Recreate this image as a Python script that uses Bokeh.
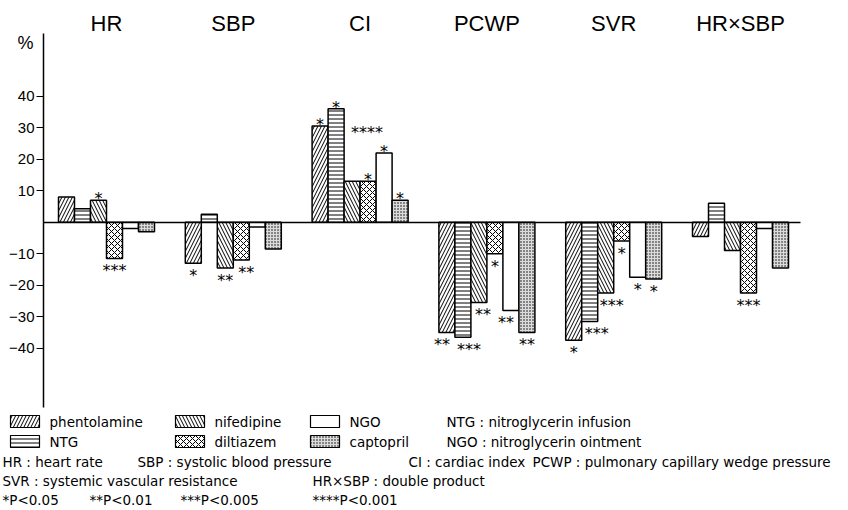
from bokeh.plotting import figure
from bokeh.models import Range1d, FixedTicker, LinearAxis, ColumnDataSource
from bokeh.embed import file_html
from bokeh.resources import INLINE
from bokeh.core.properties import value

# ---------------- data ----------------
groups = ["HR", "SBP", "CI", "PCWP", "SVR", "HR×SBP"]
series = ["phentolamine", "NTG", "nifedipine", "diltiazem", "NGO", "captopril"]

phentolamine = [8, -13, 30.5, -35, -37.5, -4.5]
ntg = [4.3, 2.5, 36, -36.5, -31.5, 6]
nifedipine = [7, -14.5, 13, -25.5, -22.5, -9]
diltiazem = [-11.5, -12, 13, -10, -6, -22.5]
ngo = [-2, -1.5, 22, -28, -17.5, -2]
captopril = [-3, -8.5, 7, -35, -18, -14.5]

sig_phentolamine = ["", "*", "*", "**", "*", ""]
sig_ntg = ["", "", "*", "***", "***", ""]
sig_nifedipine = ["*", "**", "****", "**", "***", ""]
sig_diltiazem = ["***", "**", "*", "*", "*", "***"]
sig_ngo = ["", "", "*", "**", "*", ""]
sig_captopril = ["", "", "*", "**", "*", ""]

y_ticks = [-40, -30, -20, -10, 10, 20, 30, 40]

legend_notes = ["NTG : nitroglycerin infusion", "NGO : nitroglycerin ointment"]
abbrev_row1 = ["HR : heart rate", "SBP : systolic blood pressure", "CI : cardiac index",
               "PCWP : pulmonary capillary wedge pressure"]
abbrev_row2 = ["SVR : systemic vascular resistance", "HR×SBP : double product"]
p_levels = ["*P<0.05", "**P<0.01", "***P<0.005", "****P<0.001"]

values = [phentolamine, ntg, nifedipine, diltiazem, ngo, captopril]
sigs = [sig_phentolamine, sig_ntg, sig_nifedipine, sig_diltiazem, sig_ngo, sig_captopril]

# ---------------- styles / layout ----------------
styles = {
    "phentolamine": dict(fill_color="white", hatch_pattern="/", hatch_scale=7, hatch_weight=1),
    "NTG": dict(fill_color="white", hatch_pattern="-", hatch_scale=4, hatch_weight=1),
    "nifedipine": dict(fill_color="white", hatch_pattern="\\", hatch_scale=7, hatch_weight=1),
    "diltiazem": dict(fill_color="white", hatch_pattern="x", hatch_scale=6, hatch_weight=1),
    "NGO": dict(fill_color="white"),
    "captopril": dict(fill_color="#dcdcdc", hatch_pattern=".", hatch_scale=3, hatch_weight=1),
}

W, H = 848, 510
GROUP_PX = 126.8      # pixels between group centres
X0_PX = 106.0         # pixel position of first group centre
UNIT_PX = 3.151       # pixels per 1 %
Y0_PX = 221.7         # pixel position of 0 %
BAR_PX = 16.0
bw = BAR_PX / GROUP_PX


def dx(px):
    return (px - X0_PX) / GROUP_PX


def dy(py):
    return (Y0_PX - py) / UNIT_PX


FONT = "Liberation Sans"
LFONT = "DejaVu Sans"
LSIZE = "13.5px"

p = figure(width=W, height=H,
           x_range=Range1d(dx(0), dx(W)), y_range=Range1d(dy(H), dy(0)),
           output_backend="svg", toolbar_location=None,
           x_axis_location=None, y_axis_location=None, outline_line_color=None,
           min_border=0)
p.grid.visible = False

# y axis (fixed at the left edge of the bar area)
yax = LinearAxis(fixed_location=dx(43), bounds=(dy(407), dy(33)))
yax.ticker = FixedTicker(ticks=y_ticks)
yax.major_label_overrides = {t: ("\u2212%d" % abs(t) if t < 0 else str(t)) for t in y_ticks}
yax.axis_line_width = 1.5
yax.axis_line_color = "black"
yax.major_tick_out = 7
yax.major_tick_in = 0
yax.major_tick_line_width = 1.2
yax.minor_tick_line_color = None
yax.major_label_standoff = 2
yax.major_label_text_font = FONT
yax.major_label_text_font_size = "15px"
yax.major_label_text_color = "black"
p.add_layout(yax, "left")

# zero line as an x axis without ticks
xax = LinearAxis(fixed_location=0, bounds=(dx(43), dx(800)))
xax.ticker = FixedTicker(ticks=[])
xax.axis_line_width = 1.5
xax.axis_line_color = "black"
xax.major_tick_line_color = None
xax.minor_tick_line_color = None
xax.major_label_text_font_size = "0px"
p.add_layout(xax, "below")

star_x, star_y, star_t, star_base = [], [], [], []
nudge_px = {("SVR", "NTG"): 7, ("SVR", "nifedipine"): 6, ("SBP", "diltiazem"): 5,
            ("CI", "nifedipine"): 15, ("PCWP", "phentolamine"): -5, ("PCWP", "NTG"): 6,
            ("PCWP", "nifedipine"): 4, ("PCWP", "NGO"): -5}
lift = {("CI", "nifedipine"): 28.5}

for k, (name, vals, sg) in enumerate(zip(series, values, sigs)):
    xs = [i + (k - 2.5) * bw for i in range(len(groups))]
    src = ColumnDataSource(dict(x=xs, top=vals))
    p.vbar(x="x", top="top", bottom=0, width=bw, source=src,
           line_color="black", line_width=1.5, hatch_color="black", **styles[name])
    for i, (v, s) in enumerate(zip(vals, sg)):
        if not s:
            continue
        key = (groups[i], name)
        star_x.append(xs[i] + nudge_px.get(key, 0) / GROUP_PX)
        if key in lift:
            star_y.append(lift[key])
            star_base.append("middle")
        elif v > 0:
            star_y.append(v + 0.5)
            star_base.append("alphabetic")
        else:
            star_y.append(v - 0.9)
            star_base.append("top")
        star_t.append(s)

for base in ("alphabetic", "top", "middle"):
    idx = [j for j, b in enumerate(star_base) if b == base]
    if idx:
        p.text(x=[star_x[j] for j in idx], y=[star_y[j] for j in idx],
               text=[star_t[j] for j in idx], text_align="center", text_baseline=base,
               text_font=value(LFONT), text_font_size="16px", text_color="black")

# group titles above the bars
p.text(x=list(range(len(groups))), y=[dy(23)] * len(groups), text=groups,
       text_align="center", text_baseline="middle",
       text_font=value(FONT), text_font_size="22px", text_color="black")
p.text(x=[dx(25)], y=[dy(42)], text=["%"], text_align="center", text_baseline="middle",
       text_font=value(FONT), text_font_size="18px", text_color="black")

# ---------------- legend ----------------
box_cols_px = [10, 175, 310]
box_w_px = 29
rows_px = [421, 441]
box_h_px = 12
for k, name in enumerate(series):
    c, r = divmod(k, 2)
    left = box_cols_px[c]
    cy = rows_px[r]
    p.quad(left=[dx(left)], right=[dx(left + box_w_px)], top=[dy(cy - box_h_px / 2)],
           bottom=[dy(cy + box_h_px / 2)], line_color="black", line_width=1.2,
           hatch_color="black", **styles[name])
    p.text(x=[dx(left + box_w_px + 10)], y=[dy(cy)], text=[name],
           text_baseline="middle", text_font=value(LFONT), text_font_size=LSIZE,
           text_color="black")

note_pos = [(446, 421), (446, 441)]
row1_pos = [(2, 461), (137, 461), (408, 461), (532, 461)]
row2_pos = [(2, 480), (312, 480)]
p_pos = [(2, 499), (89, 499), (180, 499), (312, 499)]
texts = legend_notes + abbrev_row1 + abbrev_row2 + p_levels
pos = note_pos + row1_pos + row2_pos + p_pos
p.text(x=[dx(a) for a, b in pos], y=[dy(b) for a, b in pos], text=texts,
       text_baseline="middle", text_font=value(LFONT), text_font_size=LSIZE,
       text_color="black")

open("out.html", "w").write(file_html(p, INLINE))
